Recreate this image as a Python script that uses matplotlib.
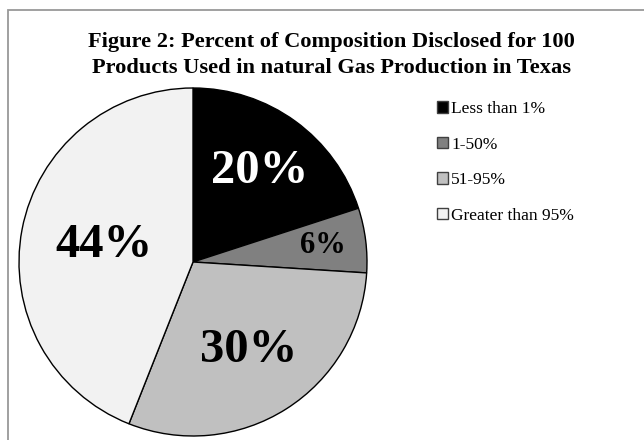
import numpy as np
import matplotlib.pyplot as plt
from matplotlib.patches import Rectangle

# data
categories = ['Less than 1%', '1-50%', '51-95%', 'Greater than 95%']
shares = [20, 6, 30, 44]
colours = ['#000000', '#808080', '#C0C0C0', '#F2F2F2']
label_colours = ['white', 'black', 'black', 'black']
label_sizes = [35, 22, 35, 35]
label_dist = [0.65, 0.75, 0.6, 0.52]

title_lines = ['Figure 2: Percent of Composition Disclosed for 100',
               'Products Used in natural Gas Production in Texas']

plt.rcParams['font.family'] = ['Liberation Serif', 'DejaVu Serif']

W, H = 644, 440
fig = plt.figure(figsize=(W / 100, H / 100), dpi=100)

# outer frame (runs off the right and bottom edge like the original)
fig.patches.append(Rectangle((8 / W, -0.05), 1.0, 1 - 10 / H + 0.05,
                             transform=fig.transFigure, fill=False,
                             edgecolor='#999999', linewidth=1.3))

cx, cy, r = 193, 262, 174
ax = fig.add_axes([(cx - r) / W, (H - cy - r) / H, 2 * r / W, 2 * r / H])
wedges, texts, autotexts = ax.pie(shares, colors=colours, startangle=90,
                                  counterclock=False, autopct='%d%%',
                                  wedgeprops=dict(edgecolor='black', linewidth=1.0))
ax.set_xlim(-1, 1)
ax.set_ylim(-1, 1)
ax.set_aspect('equal')
for w in wedges:
    w.set_clip_on(False)

for w, t, c, s, d in zip(wedges, autotexts, label_colours, label_sizes, label_dist):
    ang = np.deg2rad((w.theta1 + w.theta2) / 2)
    t.set_position((d * np.cos(ang), d * np.sin(ang)))
    t.set_color(c)
    t.set_fontsize(s)
    t.set_fontweight('bold')
    t.set_ha('center')
    t.set_va('center')

# title, two lines, stretched to the width seen in the original
t1 = fig.text(331 / W, 1 - 47 / H, title_lines[0], ha='center', va='baseline',
              fontsize=15, fontweight='bold')
t2 = fig.text(331 / W, 1 - 73 / H, title_lines[1], ha='center', va='baseline',
              fontsize=15, fontweight='bold')
renderer = fig.canvas.get_renderer()
wpx = t1.get_window_extent(renderer).width
for t in (t1, t2):
    t.set_fontsize(15 * 487 / wpx)

leg = fig.legend(wedges, categories, loc='upper left',
                 bbox_to_anchor=(437 / W, 1 - 101 / H), frameon=False,
                 fontsize=12.5, handlelength=0.63, handleheight=0.63,
                 handletextpad=0.2, labelspacing=1.13, borderaxespad=0,
                 borderpad=0)
for h in leg.legend_handles:
    h.set_edgecolor('#404040')
    h.set_linewidth(1.0)

fig.savefig('out.png', dpi=100)
